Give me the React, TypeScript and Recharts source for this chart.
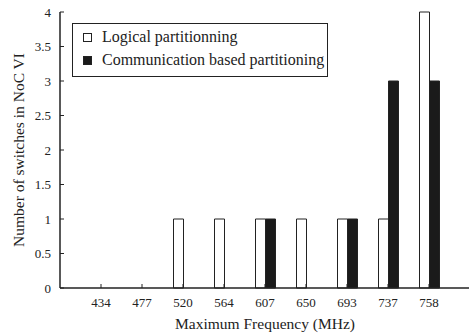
import React from 'react';
import { BarChart, Bar, XAxis, YAxis } from 'recharts';

const categories = ['434', '477', '520', '564', '607', '650', '693', '737', '758'];
const logicalValues = [0, 0, 1, 1, 1, 1, 1, 1, 4];
const communicationValues = [0, 0, 0, 0, 1, 0, 1, 3, 3];
const yTicks = [0, 0.5, 1, 1.5, 2, 2.5, 3, 3.5, 4];
const xPositions = categories.map((_, i) => i + 1);
const seriesNames = ['Logical partitionning', 'Communication based partitioning'];

const data = categories.map((c, i) => ({
  pos: xPositions[i],
  label: c,
  logical: logicalValues[i],
  communication: communicationValues[i],
}));

const FONT = 'Liberation Serif, Times New Roman, serif';
const INK = '#222';

const BottomTick = (props: any) => {
  const { x, y, payload } = props;
  return (
    <g>
      <line x1={x} x2={x} y1={y} y2={y - 4} stroke={INK} strokeWidth={1} />
      <text x={x} y={y + 19} textAnchor="middle" style={{ fontFamily: FONT, fontSize: 13 }} fill="#222">
        {categories[payload.value - 1]}
      </text>
    </g>
  );
};

const TopTick = (props: any) => {
  const { x, y } = props;
  return <line x1={x} x2={x} y1={y} y2={y + 4} stroke={INK} strokeWidth={1} />;
};

const LeftTick = (props: any) => {
  const { x, y, payload } = props;
  return (
    <g>
      <line x1={x} x2={x + 4} y1={y} y2={y} stroke={INK} strokeWidth={1} />
      <text x={x - 9} y={y} dy="0.35em" textAnchor="end" style={{ fontFamily: FONT, fontSize: 13 }} fill="#222">
        {String(payload.value)}
      </text>
    </g>
  );
};

const RightTick = (props: any) => {
  const { x, y } = props;
  return <line x1={x} x2={x - 4} y1={y} y2={y} stroke={INK} strokeWidth={1} />;
};

const YLabel = (props: any) => {
  const vb = props.viewBox || {};
  const cx = 18;
  const cy = (vb.y || 0) + (vb.height || 0) / 2;
  return (
    <text
      x={cx}
      y={cy}
      transform={`rotate(-90, ${cx}, ${cy})`}
      textAnchor="middle"
      dominantBaseline="central"
      style={{ fontFamily: FONT, fontSize: 15.5 }}
      fill="#222"
    >
      Number of switches in NoC VI
    </text>
  );
};

const XLabel = (props: any) => {
  const vb = props.viewBox || {};
  const cx = (vb.x || 0) + (vb.width || 0) / 2;
  const by = (vb.y || 0) + 41;
  return (
    <text x={cx} y={by} textAnchor="middle" style={{ fontFamily: FONT, fontSize: 15.5 }} fill="#222">
      Maximum Frequency (MHz)
    </text>
  );
};

const LegendBox = () => (
  <div
    style={{
      position: 'absolute',
      left: 72,
      top: 23,
      border: `1px solid ${INK}`,
      background: '#fff',
      width: 254,
      height: 52,
      fontFamily: FONT,
      fontSize: 16,
      color: '#222',
      lineHeight: '20px',
    }}
  >
    <div style={{ position: 'absolute', left: 10, top: 3, display: 'flex', alignItems: 'center', height: 20, whiteSpace: 'nowrap' }}>
      <span style={{ display: 'inline-block', width: 7, height: 7, border: `1px solid ${INK}`, background: '#fff', marginRight: 10 }} />
      <span>{seriesNames[0]}</span>
    </div>
    <div style={{ position: 'absolute', left: 10, top: 26, display: 'flex', alignItems: 'center', height: 20, whiteSpace: 'nowrap' }}>
      <span style={{ display: 'inline-block', width: 7, height: 7, border: `1px solid ${INK}`, background: '#1a1a1a', marginRight: 10 }} />
      <span>{seriesNames[1]}</span>
    </div>
  </div>
);

export default function App() {
  return (
    <div style={{ position: 'absolute', left: 0, top: 0, width: 469, height: 333, overflow: 'hidden', background: '#fff' }}>
      <BarChart
        width={480}
        height={333}
        data={data}
        margin={{ top: 12, right: 10, bottom: 0, left: 0 }}
        barGap={0}
        barCategoryGap={0}
      >
        <XAxis
          dataKey="pos"
          type="number"
          domain={[0, 10]}
          ticks={xPositions}
          interval={0}
          height={45}
          tickSize={0}
          tickMargin={0}
          tickLine={false}
          axisLine={{ stroke: INK, strokeWidth: 1.5 }}
          tick={<BottomTick />}
          label={XLabel}
        />
        <XAxis
          xAxisId="top"
          orientation="top"
          dataKey="pos"
          type="number"
          domain={[0, 10]}
          ticks={xPositions}
          interval={0}
          height={0}
          tickSize={0}
          tickMargin={0}
          tickLine={false}
          axisLine={{ stroke: INK, strokeWidth: 1.5 }}
          tick={<TopTick />}
        />
        <YAxis
          type="number"
          domain={[0, 4]}
          ticks={yTicks}
          interval={0}
          width={60}
          tickSize={0}
          tickMargin={0}
          tickLine={false}
          axisLine={{ stroke: INK, strokeWidth: 1.5 }}
          tick={<LeftTick />}
          label={YLabel}
        />
        <YAxis
          yAxisId="right"
          orientation="right"
          type="number"
          domain={[0, 4]}
          ticks={yTicks}
          interval={0}
          width={0}
          tickSize={0}
          tickMargin={0}
          tickLine={false}
          axisLine={{ stroke: INK, strokeWidth: 1.5 }}
          tick={<RightTick />}
        />
        <Bar dataKey="logical" name={seriesNames[0]} fill="#fff" stroke={INK} strokeWidth={1} barSize={10} isAnimationActive={false} />
        <Bar dataKey="communication" name={seriesNames[1]} fill="#1a1a1a" stroke={INK} strokeWidth={1} barSize={10} isAnimationActive={false} />
      </BarChart>
      <LegendBox />
    </div>
  );
}
